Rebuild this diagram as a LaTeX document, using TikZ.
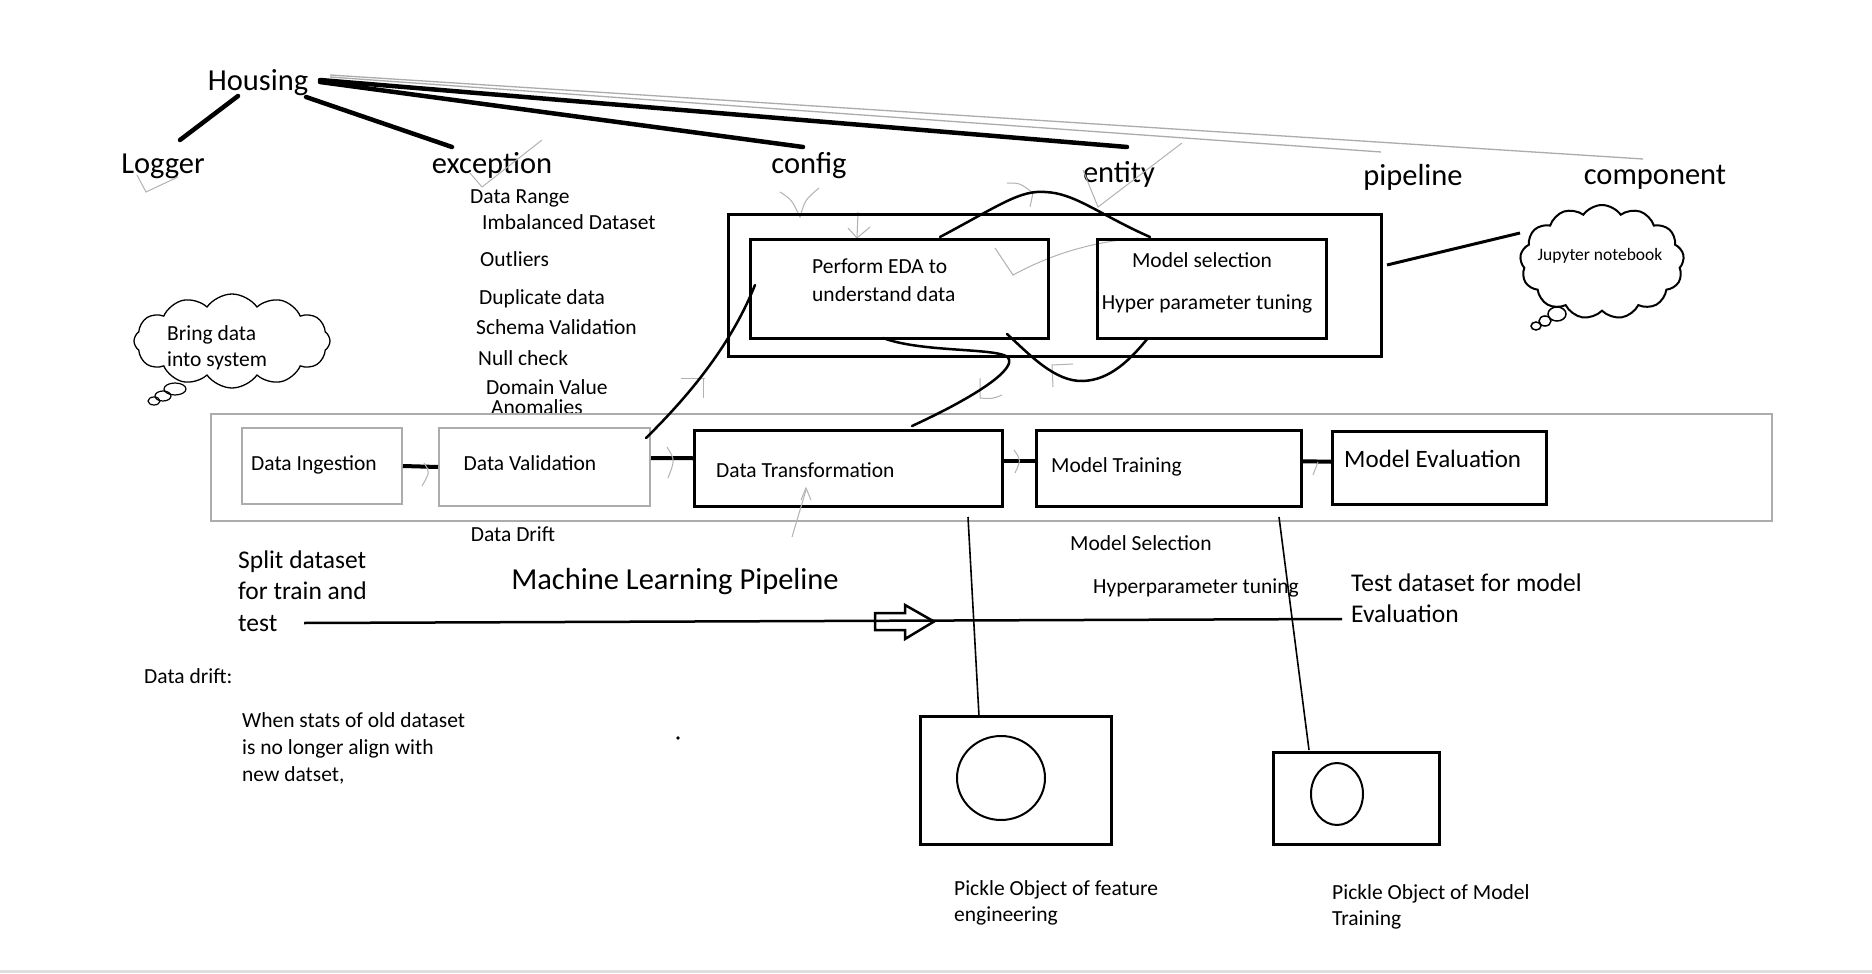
\documentclass[tikz,border=0pt]{standalone}
\usepackage{fontspec}
\setmainfont{Carlito}
\usetikzlibrary{shapes.symbols,calc}
\begin{document}
\begin{tikzpicture}[x=1pt,y=-1pt,
 big/.style={font=\fontsize{30.5}{36}\selectfont, inner sep=0, text height=24pt, text depth=2pt},
 mid/.style={font=\fontsize{25.5}{31}\selectfont, inner sep=0, anchor=west, text height=20pt, text depth=2pt},
 small/.style={font=\fontsize{21.5}{26}\selectfont, inner sep=0, anchor=west, text height=18pt, text depth=2pt},
 heavy/.style={line width=4.5pt, line cap=round},
 faint/.style={draw=gray!65, line width=1.3pt},
 tickmark/.style={draw=gray!60, line width=1pt},
 box/.style={draw, line width=2.5pt, inner sep=0, anchor=north west},
 grbox/.style={draw=gray!65, line width=2pt, inner sep=0, anchor=north west},
 curve/.style={line width=2.5pt, line cap=round},
 conn/.style={line width=4pt},
]
\useasboundingbox (0,0) rectangle (1872,974);
\fill[white] (0,0) rectangle (1872,974);
\draw[gray!25, line width=3pt] (0,971) -- (1872,971);

% ---- top tree ----
\node[big] (housing) at (258,79) {Housing};
\node[big] (logger) at (163,162) {Logger};
\node[big] (exception) at (492,162) {exception};
\node[big] (config) at (809,162) {config};
\node[big] (entity) at (1119,171) {entity};
\node[big] (pipeline) at (1413,174) {pipeline};
\node[big] (component) at (1655,173) {component};

\coordinate (hL) at (238,96);   \coordinate (lT) at (180,140);
\coordinate (hE) at (306,97);   \coordinate (eT) at (452,147);
\coordinate (hC) at (320,82);   \coordinate (cT) at (803,147);
\coordinate (hN) at (320,80);   \coordinate (nT) at (1127,147);
\coordinate (hP) at (330,77);   \coordinate (pT) at (1381,152);
\coordinate (hM) at (330,75);   \coordinate (mT) at (1643,159);
\draw[heavy] (hL) -- (lT);
\draw[heavy] (hE) -- (eT);
\draw[heavy] (hC) -- (cT);
\draw[heavy] (hN) -- (nT);
\draw[faint] (hP) -- (pT);
\draw[faint] (hM) -- (mT);

% ticks
\draw[tickmark] (137,175) -- (146,192) -- (178,177);
\draw[tickmark] (470,173) -- (482,187) -- (542,140);
\draw[tickmark] (780,192) .. controls (792,200) .. (800,217) .. controls (805,200) .. (819,188);
\draw[tickmark] (858,212) -- (857,238);
\draw[tickmark] (848,228) -- (857,238) -- (870,227);
\draw[tickmark] (1083,170) -- (1098,207) -- (1182,143);
\draw[tickmark] (1007,183) .. controls (1020,183) .. (1033,193) -- (1030,207);
\draw[tickmark] (995,248) -- (1013,275) .. controls (1050,255) and (1090,242) .. (1139,238);
\draw[tickmark] (681,378) -- (705,378);
\draw[tickmark] (703,378) -- (703,398);
\draw[tickmark] (980,378) -- (980,398) .. controls (992,399) .. (1002,395);
\draw[tickmark] (1053,387) -- (1052,365) -- (1073,364);

% exception list
\node[small] (drange) at (470,195) {Data Range};
\node[small] (imbal) at (482,221) {Imbalanced Dataset};
\node[small] (outl) at (480,258) {Outliers};
\node[small] (dup) at (479,296) {Duplicate data};
\node[small] (schema) at (476,326) {Schema Validation};
\node[small] (null) at (478,357) {Null check};
\node[small] (domain) at (486,386) {Domain Value};
\node[small] (anom) at (491,406) {Anomalies};

% ---- component group ----
\node[box, minimum width=653, minimum height=142] (group) at (727,213) {};
\node[box, minimum width=298, minimum height=99] (eda) at (749,238) {};
\node[box, minimum width=229, minimum height=99] (msel) at (1096,238) {};
\node[small] (edat1) at (812,265) {Perform EDA to};
\node[small] (edat2) at (812,293) {understand data};
\node[small, anchor=center] (mst1) at (1202,259) {Model selection};
\node[small, anchor=center] (mst2) at (1207,301) {Hyper parameter tuning};

% jupyter cloud
\node[cloud, draw, line width=2pt, cloud puffs=13, cloud puff arc=110, cloud ignores aspect, minimum width=164, minimum height=114, inner sep=0] (jup) at (1602,262) {};
\node[font=\fontsize{17.5}{20}\selectfont, inner sep=0] (jupt) at (1600,256) {Jupyter notebook};
\draw[line width=1.5pt] (1557,314) ellipse [x radius=9pt, y radius=7pt];
\draw[line width=1.5pt] (1545,321) ellipse [x radius=6pt, y radius=5pt];
\draw[line width=1.5pt] (1536,326) ellipse [x radius=5pt, y radius=4pt];
\coordinate (gR) at (1387,265); \coordinate (jL) at (1520,233);
\draw[line width=3pt] (gR) -- (jL);

% bring data cloud
\node[cloud, draw, line width=1.3pt, cloud puffs=12, cloud puff arc=110, cloud ignores aspect, minimum width=196, minimum height=94, inner sep=0] (bring) at (232,341) {};
\node[small] (bt1) at (167,332) {Bring data};
\node[small] (bt2) at (167,358) {into system};
\draw[line width=1.2pt] (175,389) ellipse [x radius=11pt, y radius=6pt];
\draw[line width=1.2pt] (163,396) ellipse [x radius=8pt, y radius=5pt];
\draw[line width=1.2pt] (154,401) ellipse [x radius=6pt, y radius=4pt];

% ---- pipeline ----
\node[grbox, minimum width=1561, minimum height=107] (pipe) at (210,413) {};
\node[grbox, minimum width=160, minimum height=76] (di) at (241,427) {};
\node[grbox, minimum width=211, minimum height=78] (dv) at (438,427) {};
\node[box, minimum width=308, minimum height=76] (dt) at (693,429) {};
\node[box, minimum width=265, minimum height=76] (mt) at (1035,429) {};
\node[box, minimum width=214, minimum height=73] (me) at (1331,430) {};
\node[small, anchor=center] (dit) at (314,462) {Data Ingestion};
\node[small, anchor=center] (dvt) at (530,462) {Data Validation};
\node[small] (dtt) at (716,469) {Data Transformation};
\node[small] (mtt) at (1051,464) {Model Training};
\node[font=\fontsize{25}{30}\selectfont, inner sep=0, anchor=west, text height=20pt, text depth=2pt] (met) at (1344,458) {Model Evaluation};

\draw[conn] (di.east) -- (dv.west);
\draw[conn] ($(dv.east)+(0,-9)$) -- ($(dt.west)+(0,-10)$);
\draw[conn] ($(dt.east)+(0,-7)$) -- ($(mt.west)+(0,-7)$);
\draw[conn] ($(mt.east)+(0,-7)$) -- ($(me.west)+(0,-6)$);
\draw[tickmark] (424,463) .. controls (430,472) .. (422,486);
\draw[tickmark] (667,447) .. controls (675,460) .. (668,478);
\draw[tickmark] (1014,450) .. controls (1021,460) .. (1015,473);
\draw[tickmark] (1313,475) .. controls (1316,468) .. (1318,462);
\draw[tickmark] (792,537) -- (806,490);
\draw[tickmark] (801,500) -- (806,488) -- (811,500);

% curves between the groups
\coordinate (edaIn) at (755,285); \coordinate (dvIn) at (646,438);
\draw[curve] (edaIn) .. controls (735,335) and (700,385) .. (dvIn);
\coordinate (edaB) at (883,338); \coordinate (dtTop) at (912,426);
\draw[curve] (edaB) .. controls (920,352) and (990,348) .. (1006,356) .. controls (1020,364) and (990,390) .. (dtTop);
\coordinate (humpA) at (940,237); \coordinate (humpB) at (1150,237);
\draw[curve] (humpA) .. controls (1000,205) and (1020,190) .. (1045,192) .. controls (1075,193) and (1100,215) .. (humpB);
\coordinate (loopA) at (1007,334); \coordinate (loopB) at (1148,338);
\draw[curve] (loopA) .. controls (1030,355) and (1055,382) .. (1083,381) .. controls (1110,380) and (1130,360) .. (loopB);

\node[small, anchor=center] (drift) at (513,533) {Data Drift};
\node[small] (msel2) at (1070,542) {Model Selection};
\node[small] (hyp) at (1093,585) {Hyperparameter tuning};

% ---- split line ----
\node[mid] (sp1) at (238,559) {Split dataset};
\node[mid] (sp2) at (238,590) {for train and};
\node[mid] (sp3) at (238,622) {test};
\node[big] (mlp) at (675,578) {Machine Learning Pipeline};
\node[mid] (td1) at (1351,582) {Test dataset for model};
\node[mid] (td2) at (1351,613) {Evaluation};
\coordinate (spS) at (304,623); \coordinate (spE) at (1342,619);
\draw[line width=2.5pt] (spS) -- (spE);
\draw[line width=2.5pt, line join=miter] (875,613) -- (905,613) -- (905,605) -- (934,621.5) -- (905,639) -- (905,630) -- (875,630) -- cycle;

% ---- pickles ----
\node[box, minimum width=191, minimum height=128] (pk1) at (919,715) {};
\node[box, minimum width=166, minimum height=92] (pk2) at (1272,751) {};
\draw[line width=2pt] (1001,778) ellipse [x radius=44pt, y radius=42pt];
\draw[line width=2pt] (1337,794) ellipse [x radius=26pt, y radius=31pt];
\coordinate (dtB) at (968,517); \coordinate (pk1T) at (979,716);
\coordinate (mtB) at (1279,517); \coordinate (pk2T) at (1309,750);
\draw[line width=1.6pt] (dtB) -- (pk1T);
\draw[line width=1.6pt] (mtB) -- (pk2T);
\node[small] (pk1a) at (954,887) {Pickle Object of feature};
\node[small] (pk1b) at (954,913) {engineering};
\node[small] (pk2a) at (1332,891) {Pickle Object of Model};
\node[small] (pk2b) at (1332,917) {Training};

% ---- data drift note ----
\node[small] (dd) at (144,675) {Data drift:};
\node[small] (w1) at (242,719) {When stats of old dataset};
\node[small] (w2) at (242,746) {is no longer align with};
\node[small] (w3) at (242,773) {new datset,};
\fill (678,738) circle (1.8pt);
\end{tikzpicture}
\end{document}
